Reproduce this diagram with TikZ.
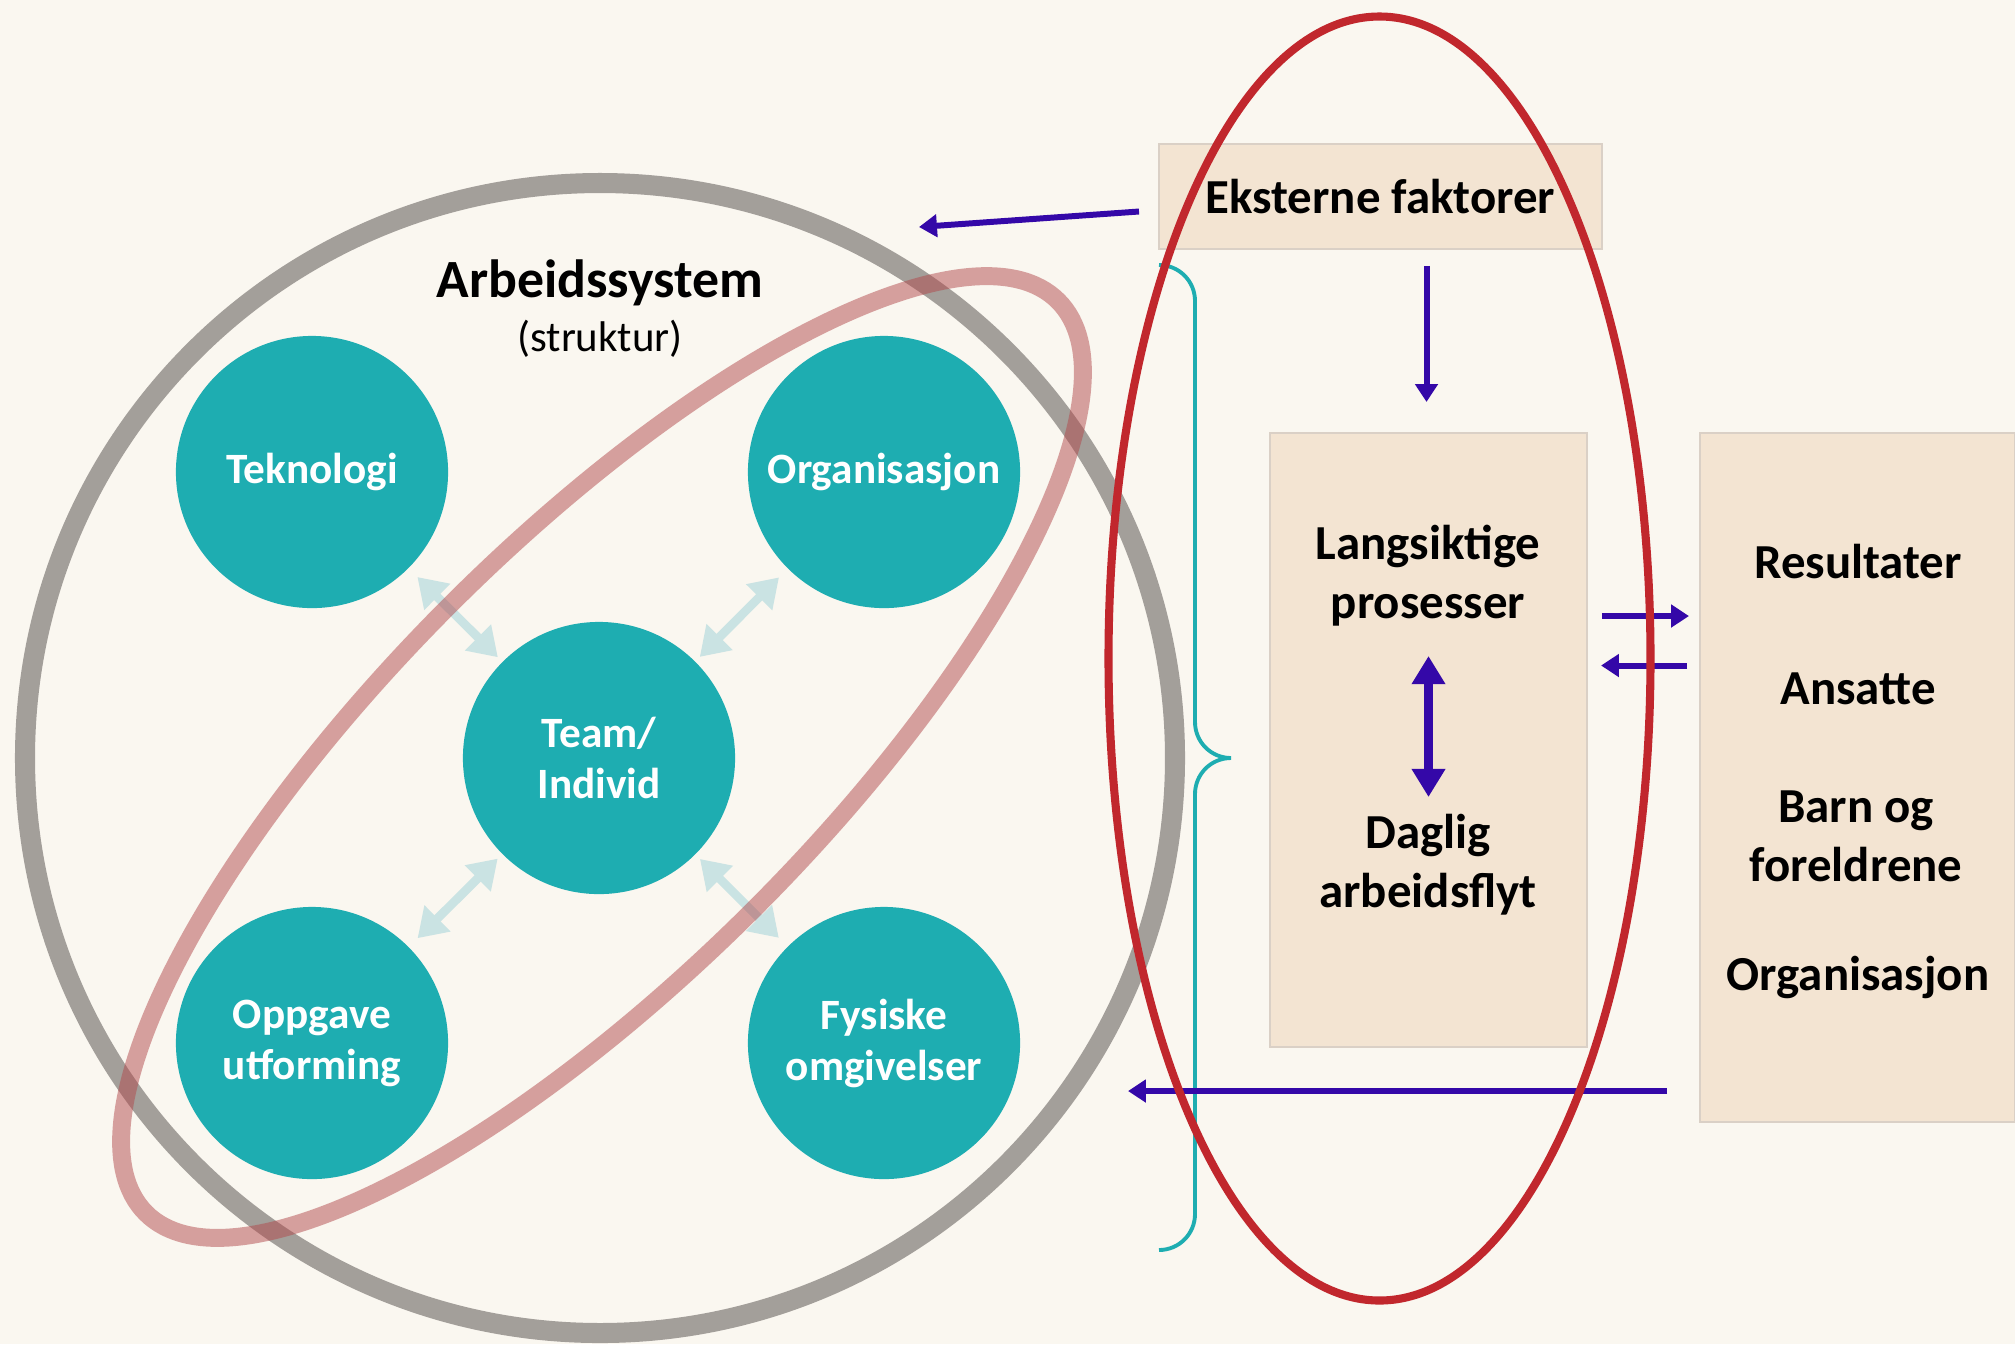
\documentclass[tikz,border=0pt]{standalone}
\usepackage{fontspec}
\setmainfont{Carlito}
\usepackage{tikz}
\usetikzlibrary{arrows.meta,calc}

\definecolor{cream}{RGB}{250,247,240}
\definecolor{bubblecol}{RGB}{30,173,177}
\definecolor{linkcol}{RGB}{202,227,227}
\definecolor{panelfill}{RGB}{243,228,210}
\definecolor{paneledge}{RGB}{218,208,198}
\definecolor{flowcol}{RGB}{52,8,168}
\definecolor{ringgray}{RGB}{163,159,154}
\definecolor{ringpink}{RGB}{178,73,76}
\definecolor{ringred}{RGB}{193,39,45}

\tikzset{
  bubble/.style={circle, fill=bubblecol, text=white, inner sep=0pt,
    minimum size=2.72cm, align=center,
    font=\bfseries\fontsize{12.3}{14.5}\selectfont},
  panel/.style={fill=panelfill, draw=paneledge, line width=0.5pt, inner sep=0pt},
  boxtext/.style={align=center, inner sep=0pt,
    font=\bfseries\fontsize{13.9}{16.8}\selectfont},
  link/.style={draw=linkcol, line width=2.5pt,
    {Triangle[width=10pt,length=8pt]}-{Triangle[width=10pt,length=8pt]},
    shorten <=0.12cm, shorten >=0.06cm},
  flow/.style={draw=flowcol, line width=1.7pt, -{Triangle[width=6.3pt,length=5.1pt]}},
  flowbig/.style={draw=flowcol, line width=2.6pt,
    {Triangle[width=9.1pt,length=8pt]}-{Triangle[width=9.1pt,length=8pt]}}
}

\begin{document}
\begin{tikzpicture}[x=0.01cm, y=-0.01cm]
        % Background
        \fill[cream] (0,0) rectangle (2015,1344);
        \useasboundingbox (0,0) rectangle (2015,1344);
        % Work system ring
        \draw[ringgray, line width=5.7pt] (600,758) circle (575);
        \node[font=\bfseries\fontsize{15.3}{18}\selectfont] (arb) at (600,283) {Arbeidssystem};
        \node[font=\fontsize{12.2}{14}\selectfont] (str) at (600,339) {(struktur)};
        % Elements
        \node[bubble] (tek) at (312,472) {Teknologi};
        \node[bubble] (org) at (884,472) {Organisasjon};
        \node[bubble] (team) at (599,758) {Team/\\Individ};
        \node[bubble] (opp) at (312,1043) {Oppgave\\utforming};
        \node[bubble] (fys) at (884,1043) {Fysiske\\omgivelser};
        \foreach \n in {tek,org,opp,fys}
            \draw[link] (\n) -- (team);
        % Diagonal loop
        \draw[ringpink, opacity=0.5, line width=5.1pt, rotate around={45:(602,757)}]
            (602,757) ellipse (645 and 215);
        % Boxes
        \node[panel, minimum width=4.43cm, minimum height=1.05cm,
            font=\bfseries\fontsize{13.9}{16.8}\selectfont] (eks) at (1380.5,196.5) {Eksterne faktorer};
        \node[panel, minimum width=3.17cm, minimum height=6.14cm] (proc) at (1428.5,740) {};
        \node[panel, minimum width=3.15cm, minimum height=6.89cm] (res) at (1857.5,777.5) {};
        \node[boxtext] (lang) at (1428,576) {Langsiktige\\prosesser};
        \node[boxtext] (dag) at (1428,865) {Daglig\\arbeidsflyt};
        \node[boxtext] (resu) at (1858,562) {Resultater};
        \node[boxtext] (ans) at (1858,689) {Ansatte};
        \node[boxtext] (barn) at (1856,836) {Barn og\\foreldrene};
        \node[boxtext] (orgr) at (1858,977) {Organisasjon};
        % Brace
        \draw[bubblecol, line width=1.1pt] (1159,265) to[out=0,in=90] (1195,301) -- (1195,722)
            to[out=270,in=180] (1231,758) to[out=180,in=90] (1195,794) -- (1195,1214)
            to[out=270,in=0] (1159,1250);
        % Arrows
        \coordinate (arbin) at (919,227);
        \coordinate (back) at (1128,1091);
        \draw[flow] ($(eks.west)+(-19,15)$) -- (arbin);
        \draw[flow] ($(eks.south)+(46,16)$) -- ($(proc.north)+(-2,-30)$);
        \draw[flow] ($(proc.east)+(14,-124)$) -- +(87,0);
        \draw[flow] ($(res.west)+(-12,-112)$) -- +(-86,0);
        \draw[flow] ($(res.west)+(-32,313.5)$) -- (back);
        \draw[flowbig] ($(proc.center)+(0,-84)$) -- ($(proc.center)+(0,57)$);
        % Process loop
        \draw[ringred, line width=2.3pt] (1379.5,658.5) ellipse (271 and 642);
\end{tikzpicture}
\end{document}
